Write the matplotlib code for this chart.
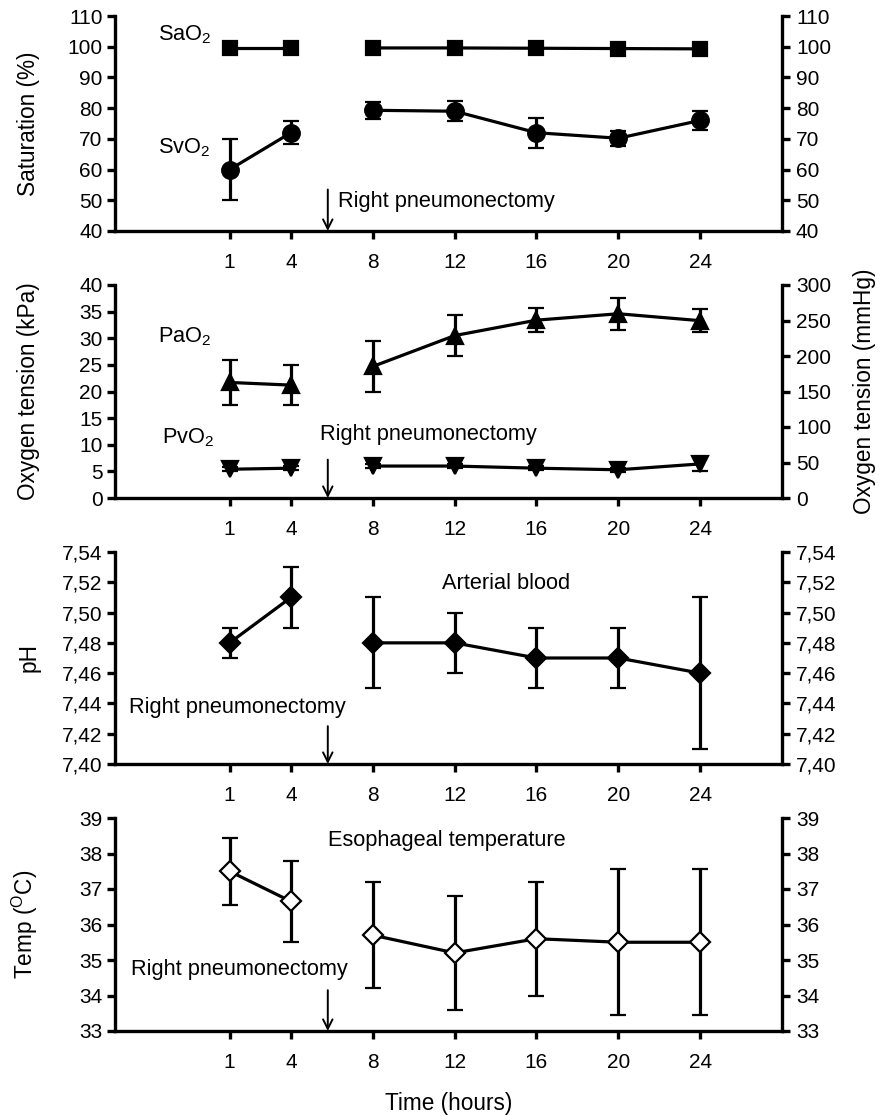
import numpy as np
import matplotlib.pyplot as plt

# -----------------------------
# Data
# -----------------------------
hours = [1, 4, 8, 12, 16, 20, 24]

sao2 = [99.6, 99.6, 99.6, 99.6, 99.5, 99.4, 99.3]
sao2_err = [0.3, 0.3, 0.3, 0.3, 0.3, 0.3, 0.3]
svo2 = [60.0, 72.0, 79.3, 79.0, 72.0, 70.2, 76.0]
svo2_err = [10.0, 3.8, 2.8, 3.2, 4.9, 2.4, 3.0]

pao2 = [21.7, 21.2, 24.7, 30.5, 33.4, 34.6, 33.3]
pao2_err = [4.2, 3.7, 4.8, 3.8, 2.2, 3.0, 2.2]
pvo2 = [5.4, 5.6, 6.0, 6.0, 5.6, 5.3, 6.4]
pvo2_err = [0.4, 0.4, 0.4, 0.4, 0.4, 0.4, 1.3]

ph = [7.48, 7.51, 7.48, 7.48, 7.47, 7.47, 7.46]
ph_err = [0.01, 0.02, 0.03, 0.02, 0.02, 0.02, 0.05]

temp = [37.5, 36.65, 35.7, 35.2, 35.6, 35.5, 35.5]
temp_err = [0.95, 1.15, 1.5, 1.6, 1.6, 2.05, 2.05]

surgery_time = 5.8

plt.rcParams['font.family'] = ['Liberation Sans', 'DejaVu Sans']
plt.rcParams['mathtext.fontset'] = 'custom'
plt.rcParams['mathtext.rm'] = 'Liberation Sans'

FS = 15        # tick labels
FS_TXT = 15.7  # annotations
FS_LAB = 16.3  # axis labels
LW = 2.3
SPINE_LW = 2.4

fig = plt.figure(figsize=(8.87, 11.16), dpi=100)

left, width = 115 / 887, 667 / 887
# (top px, bottom px) of each panel
panel_px = [(16, 231), (285, 498), (552, 764), (818, 1031)]


def make_axes(top, bottom):
    ax = fig.add_axes([left, 1 - bottom / 1116, width, (bottom - top) / 1116])
    ax.set_xlim(-4.6, 28)
    for s in ['top', 'right']:
        ax.spines[s].set_visible(False)
    for s in ['left', 'bottom']:
        ax.spines[s].set_linewidth(SPINE_LW)
    ax.set_xticks(hours)
    ax.set_xticklabels([str(h) for h in hours])
    ax.tick_params(axis='x', direction='out', length=6, width=2.4, pad=10, labelsize=FS)
    ax.tick_params(axis='y', direction='out', length=6, width=2.4, pad=3, labelsize=FS)
    ax.yaxis.set_label_coords(-0.112, 0.5)
    tw = ax.twinx()
    for s in ['top', 'left', 'bottom']:
        tw.spines[s].set_visible(False)
    tw.spines['right'].set_linewidth(SPINE_LW)
    tw.tick_params(axis='y', direction='out', length=6, width=2.4, pad=4, labelsize=FS)
    return ax, tw


def draw_series(ax, vals, errs, marker, ms, mfc='black'):
    # line is broken around the operation (between 4 h and 8 h)
    for sl in [slice(0, 2), slice(2, 7)]:
        ax.errorbar(hours[sl], vals[sl], yerr=errs[sl], fmt='-', marker=marker,
                    color='black', ms=ms, mfc=mfc, mec='black', mew=1.6,
                    lw=LW, elinewidth=LW, capsize=6, capthick=LW, zorder=3)


def surgery_arrow(ax, y_top, y_bottom):
    ax.annotate('', xy=(surgery_time, y_bottom), xytext=(surgery_time, y_top),
                arrowprops=dict(arrowstyle='->', lw=1.4, color='black',
                                mutation_scale=17, shrinkA=0, shrinkB=0))


# -----------------------------
# Panel 1: Saturation
# -----------------------------
ax, tw = make_axes(*panel_px[0])
draw_series(ax, sao2, sao2_err, 's', 10)
draw_series(ax, svo2, svo2_err, 'o', 12)
ax.set_ylim(40, 110)
ax.set_yticks(np.arange(40, 111, 10))
tw.set_ylim(40, 110)
tw.set_yticks(np.arange(40, 111, 10))
ax.set_ylabel('Saturation (%)', fontsize=FS_LAB)
ax.text(-2.5, 104, r'SaO$\mathregular{_2}$', fontsize=FS_TXT, va='center')
ax.text(-2.5, 67, r'SvO$\mathregular{_2}$', fontsize=FS_TXT, va='center')
ax.text(6.3, 49.5, 'Right pneumonectomy', fontsize=FS_TXT, va='center')
surgery_arrow(ax, 53.5, 40)

# -----------------------------
# Panel 2: Oxygen tension
# -----------------------------
ax, tw = make_axes(*panel_px[1])
draw_series(ax, pao2, pao2_err, '^', 12)
draw_series(ax, pvo2, pvo2_err, 'v', 12)
ax.set_ylim(0, 40)
ax.set_yticks(np.arange(0, 41, 5))
tw.set_ylim(0, 300)
tw.set_yticks(np.arange(0, 301, 50))
ax.set_ylabel('Oxygen tension (kPa)', fontsize=FS_LAB)
tw.set_ylabel('Oxygen tension (mmHg)', fontsize=FS_LAB)
tw.yaxis.set_label_coords(1.107, 0.5)
ax.text(-2.5, 30.2, r'PaO$\mathregular{_2}$', fontsize=FS_TXT, va='center')
ax.text(-2.3, 11.3, r'PvO$\mathregular{_2}$', fontsize=FS_TXT, va='center')
ax.text(5.4, 11.9, 'Right pneumonectomy', fontsize=FS_TXT, va='center')
surgery_arrow(ax, 7.2, 0)

# -----------------------------
# Panel 3: pH
# -----------------------------
ph_ticks = np.arange(7.40, 7.541, 0.02)
ph_labels = [f'{t:.2f}'.replace('.', ',') for t in ph_ticks]
ax, tw = make_axes(*panel_px[2])
draw_series(ax, ph, ph_err, 'D', 10)
ax.set_ylim(7.40, 7.54)
ax.set_yticks(ph_ticks)
ax.set_yticklabels(ph_labels)
tw.set_ylim(7.40, 7.54)
tw.set_yticks(ph_ticks)
tw.set_yticklabels(ph_labels)
ax.set_ylabel('pH', fontsize=FS_LAB)
ax.text(11.4, 7.5195, 'Arterial blood', fontsize=FS_TXT, va='center')
ax.text(-3.9, 7.4376, 'Right pneumonectomy', fontsize=FS_TXT, va='center')
surgery_arrow(ax, 7.425, 7.40)

# -----------------------------
# Panel 4: Temperature
# -----------------------------
ax, tw = make_axes(*panel_px[3])
draw_series(ax, temp, temp_err, 'D', 10.5, mfc='white')
ax.set_ylim(33, 39)
ax.set_yticks(np.arange(33, 40, 1))
tw.set_ylim(33, 39)
tw.set_yticks(np.arange(33, 40, 1))
ax.set_ylabel(r'Temp ($\mathregular{^O}$C)', fontsize=FS_LAB)
ax.text(5.8, 38.38, 'Esophageal temperature', fontsize=FS_TXT, va='center')
ax.text(-3.8, 34.72, 'Right pneumonectomy', fontsize=FS_TXT, va='center')
surgery_arrow(ax, 34.15, 33)
ax.set_xlabel('Time (hours)', fontsize=FS_LAB)
ax.xaxis.set_label_coords(0.5, -0.285)

fig.savefig('out.png', dpi=100)
